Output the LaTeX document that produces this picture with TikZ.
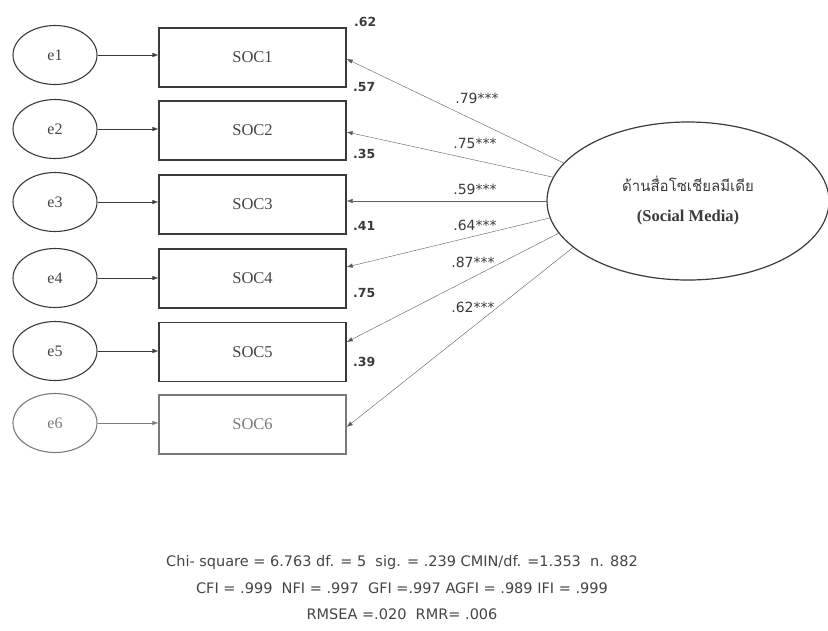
\documentclass[tikz,border=0pt]{standalone}
\usepackage{fontspec}
\setmainfont{Liberation Serif}
\newfontfamily\thaifont[Script=Thai]{Loma}
\newfontfamily\statfont{DejaVu Sans}
\usetikzlibrary{arrows.meta,positioning,shapes.geometric}
\definecolor{semink}{HTML}{3A3A3A}
\definecolor{semline}{HTML}{5C5C5C}
\definecolor{semtext}{HTML}{444444}
\definecolor{semfade}{HTML}{7A7A7A}

\begin{document}
\begin{tikzpicture}[x=1pt,y=-1pt,>={Latex[length=6pt,width=4.5pt]},
    errnode/.style={draw=semink,ellipse,line width=1.1pt,minimum width=84pt,minimum height=59pt,inner sep=0pt,text=semtext,font=\fontsize{16}{19}\selectfont},
    obsbox/.style={draw=semink,rectangle,line width=1.4pt,minimum width=187pt,minimum height=59pt,inner sep=0pt,text=semtext,font=\fontsize{16.5}{19}\selectfont},
    loadlbl/.style={inner sep=0pt,text=semink,font=\statfont\fontsize{14}{17}\selectfont},
    rsqlbl/.style={inner sep=0pt,anchor=west,text=semink,font=\statfont\bfseries\fontsize{12.5}{15}\selectfont},
    statline/.style={inner sep=0pt,text=semtext,font=\statfont\fontsize{14.5}{17}\selectfont}]
    \useasboundingbox (0,0) rectangle (828,630);
    % measured variables
    \node[obsbox] (soc1) at (252.5,57.5) {SOC1};
    \node[obsbox] (soc2) at (252.5,130.5) {SOC2};
    \node[obsbox] (soc3) at (252.5,204.5) {SOC3};
    \node[obsbox] (soc4) at (252.5,278.5) {SOC4};
    \node[obsbox] (soc5) at (252.5,352) {SOC5};
    \node[obsbox,draw=semfade,text=semfade] (soc6) at (252.5,424.5) {SOC6};
    % error terms
    \node[errnode] (e1) at (55,55) {e1};
    \node[errnode] (e2) at (55,129) {e2};
    \node[errnode] (e3) at (55,202) {e3};
    \node[errnode] (e4) at (55,278) {e4};
    \node[errnode] (e5) at (55,351) {e5};
    \node[errnode,draw=semfade,text=semfade] (e6) at (55,423) {e6};
    \draw[->,semink] (e1.east) -- (e1.east -| soc1.west);
    \draw[->,semink] (e2.east) -- (e2.east -| soc2.west);
    \draw[->,semink] (e3.east) -- (e3.east -| soc3.west);
    \draw[->,semink] (e4.east) -- (e4.east -| soc4.west);
    \draw[->,semink] (e5.east) -- (e5.east -| soc5.west);
    \draw[->,semfade] (e6.east) -- (e6.east -| soc6.west);
    % latent factor
    \node[draw=semink,ellipse,line width=1.2pt,minimum width=282pt,minimum height=158pt,align=center,text=semink,font=\fontsize{15}{18}\selectfont] (lat) at (688,201)
      {{\thaifont ด้านสื่อโซเชียลมีเดีย}\\[12pt]{\fontsize{16.5}{19}\selectfont\textbf{(Social Media)}}};
    \draw[->,semline] (lat.163) -- ([yshift=-1.5pt]soc1.east);
    \draw[->,semline] (lat.170) -- ([yshift=-1.5pt]soc2.east);
    \draw[->,semline] (lat.180) -- ([yshift=3.5pt]soc3.east);
    \draw[->,semline] (lat.187) -- ([yshift=11.5pt]soc4.east);
    \draw[->,semline] (lat.194) -- ([yshift=10pt]soc5.east);
    \draw[->,semline] (lat.202.5) -- ([yshift=-2.5pt]soc6.east);
    % loadings and squared multiple correlations
    \node[loadlbl] (l1) at (477,98) {.79***};
    \node[loadlbl] (l2) at (475,143) {.75***};
    \node[loadlbl] (l3) at (475,189) {.59***};
    \node[loadlbl] (l4) at (475,225) {.64***};
    \node[loadlbl] (l5) at (473,262) {.87***};
    \node[loadlbl] (l6) at (473,307) {.62***};
    \node[rsqlbl] (r1) at (354,22) {.62};
    \node[rsqlbl] (r2) at (353,87) {.57};
    \node[rsqlbl] (r3) at (353,154) {.35};
    \node[rsqlbl] (r4) at (353,226) {.41};
    \node[rsqlbl] (r5) at (353,293) {.75};
    \node[rsqlbl] (r6) at (353,362) {.39};
    % fit indices
    \node[statline] (fit1) at (402,562) {Chi- square = 6.763 df. = 5\ \ sig. = .239 CMIN/df. =1.353\ \ n. 882};
    \node[statline] (fit2) at (402,588) {CFI = .999\ \ NFI = .997\ \ GFI =.997 AGFI = .989 IFI = .999};
    \node[statline] (fit3) at (402,614) {RMSEA =.020\ \ RMR= .006};
  \end{tikzpicture}
\end{document}
